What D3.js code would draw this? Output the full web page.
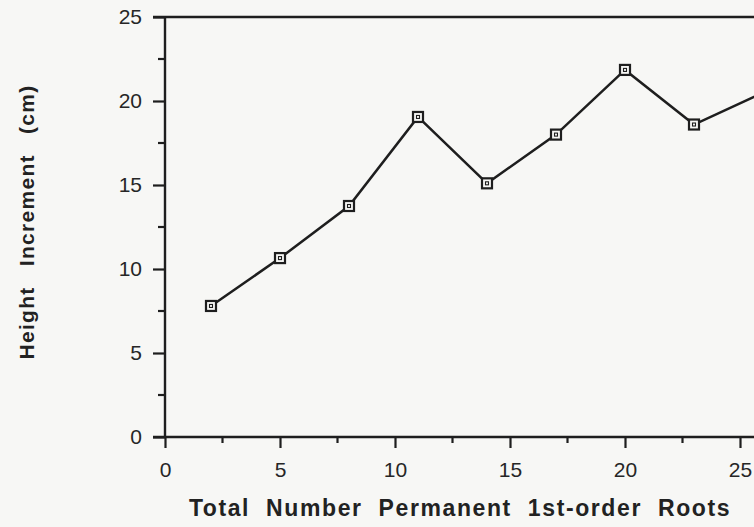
<!DOCTYPE html>
<html>
<head>
<meta charset="utf-8">
<script src="https://cdn.jsdelivr.net/npm/d3@7"></script>
<style>
  html, body { margin: 0; padding: 0; background: #f7f7f5; }
  svg { display: block; }
  text { font-family: "Liberation Sans", Arial, Helvetica, sans-serif; fill: #222; }
</style>
</head>
<body>
<svg id="chart" width="754" height="527"></svg>
<script>
// Number of permanent first-order roots (x) vs. height increment in cm (y)
const rootCounts = [2, 5, 8, 11, 14, 17, 20, 23, 26];
const heightIncrement = [7.8, 10.65, 13.75, 19.05, 15.1, 18.0, 21.85, 18.6, 20.5];
const xTickValues = [0, 5, 10, 15, 20, 25];
const yTickValues = [0, 5, 10, 15, 20, 25];
const xMinorTicks = [2.5, 7.5, 12.5, 17.5, 22.5];
const yMinorTicks = [2.5, 7.5, 12.5, 17.5, 22.5];

const svg = d3.select("#chart");
const W = 754, H = 527;
const plotLeft = 165, plotTop = 17, plotBottom = 437;

const x = d3.scaleLinear().domain([0, 25]).range([plotLeft, 740]);
const y = d3.scaleLinear().domain([0, 25]).range([plotBottom, plotTop]);

const ink = "#1e1e1e";

// clip region for the plotted series (page edge on the right)
svg.append("defs").append("clipPath").attr("id", "plot")
  .append("rect").attr("x", plotLeft - 10).attr("y", 0).attr("width", W - plotLeft + 10).attr("height", plotBottom + 10);

// Y axis
const yAxis = d3.axisLeft(y).tickValues(yTickValues).tickSize(12).tickPadding(11).tickFormat(d3.format("d"));
const gy = svg.append("g").attr("transform", `translate(${plotLeft},0)`).call(yAxis);
gy.attr("font-size", 21);
gy.select(".domain").attr("stroke", ink).attr("stroke-width", 2.4).attr("d", `M0,${plotTop}V${plotBottom}`);
gy.selectAll(".tick line").attr("stroke", ink).attr("stroke-width", 2.2);
gy.selectAll(".tick text").style("font-size", "21px").style("fill", "#262626");
gy.selectAll(".minor").data(yMinorTicks).enter().append("line")
  .attr("class", "minor").attr("x1", -7).attr("x2", 0)
  .attr("y1", d => y(d)).attr("y2", d => y(d))
  .attr("stroke", ink).attr("stroke-width", 2.2);

// X axis, the axis line runs on to the page edge
const xAxis = d3.axisBottom(x).tickValues(xTickValues).tickSize(11).tickPadding(14).tickFormat(d3.format("d"));
const gx = svg.append("g").attr("transform", `translate(0,${plotBottom})`).call(xAxis);
gx.attr("font-size", 21);
gx.select(".domain").attr("stroke", ink).attr("stroke-width", 2.4).attr("d", `M${plotLeft - 12},0H${W}`);
gx.selectAll(".tick line").attr("stroke", ink).attr("stroke-width", 2.2);
gx.selectAll(".tick text").style("font-size", "21px").style("fill", "#262626");
gx.selectAll(".minor").data(xMinorTicks).enter().append("line")
  .attr("class", "minor").attr("y1", 0).attr("y2", 6)
  .attr("x1", d => x(d)).attr("x2", d => x(d))
  .attr("stroke", ink).attr("stroke-width", 2.2);

// top frame line
svg.append("line").attr("x1", plotLeft - 12).attr("x2", W)
  .attr("y1", y(25)).attr("y2", y(25))
  .attr("stroke", ink).attr("stroke-width", 2.4);

// series line
const pts = rootCounts.map((r, i) => [r, heightIncrement[i]]);
const plot = svg.append("g").attr("clip-path", "url(#plot)");
plot.append("path").datum(pts)
  .attr("fill", "none").attr("stroke", ink).attr("stroke-width", 2.5)
  .attr("stroke-linejoin", "miter")
  .attr("d", d3.line().x(d => x(d[0])).y(d => y(d[1])));

// square markers with a dot in the middle
const mk = plot.selectAll(".mk").data(pts).enter().append("g")
  .attr("transform", d => `translate(${x(d[0])},${y(d[1])})`);
mk.append("rect").attr("x", -5).attr("y", -5).attr("width", 10).attr("height", 10)
  .attr("fill", "#f7f7f5").attr("stroke", ink).attr("stroke-width", 2.2);
mk.append("rect").attr("x", -1.5).attr("y", -1.5).attr("width", 3).attr("height", 3)
  .attr("fill", "none").attr("stroke", ink).attr("stroke-width", 1.1);

// axis titles
svg.append("text")
  .attr("transform", `translate(34,222) rotate(-90)`)
  .attr("text-anchor", "middle").style("font-size", "21px").attr("font-weight", "bold")
  .style("word-spacing", "13px").style("letter-spacing", "1.3px")
  .text("Height Increment (cm)");

svg.append("text")
  .attr("x", 460).attr("y", 516)
  .attr("text-anchor", "middle").style("font-size", "23px").attr("font-weight", "bold")
  .style("word-spacing", "8px").style("letter-spacing", "1.6px")
  .text("Total Number Permanent 1st-order Roots");
</script>
</body>
</html>
